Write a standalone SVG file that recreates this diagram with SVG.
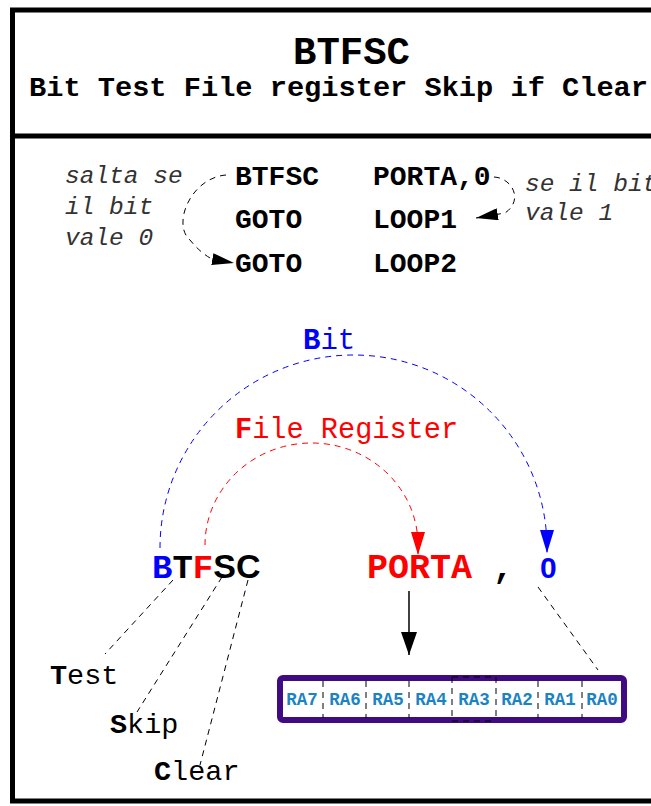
<svg xmlns="http://www.w3.org/2000/svg" width="651" height="806" viewBox="0 0 651 806">
<defs>
<style>
.mono{font-family:"Liberation Mono","Courier New",monospace}
.b{font-weight:bold}
.it{font-style:italic;fill:#333}
.dash{fill:none;stroke:#000;stroke-width:1;stroke-dasharray:6,5}
.cell{font-family:"Liberation Mono","Courier New",monospace;font-weight:bold;font-size:17.5px;fill:#1b83c4;text-anchor:middle}
.div{stroke:#000;stroke-width:1;stroke-dasharray:6,5}
</style>
<marker id="ah" markerUnits="userSpaceOnUse" markerWidth="22" markerHeight="12" refX="22" refY="6" orient="auto"><path d="M0,0 L22,6 L0,12 z" fill="#000"/></marker>
<marker id="ahBlack" markerUnits="userSpaceOnUse" markerWidth="23" markerHeight="16" refX="23" refY="8" orient="auto"><path d="M0,0 L23,8 L0,16 z" fill="#000"/></marker>
<marker id="ahBlue" markerUnits="userSpaceOnUse" markerWidth="23" markerHeight="14" refX="23" refY="7" orient="auto"><path d="M0,0 L23,7 L0,14 z" fill="#0000ff"/></marker>
<marker id="ahRed" markerUnits="userSpaceOnUse" markerWidth="23" markerHeight="14" refX="23" refY="7" orient="auto"><path d="M0,0 L23,7 L0,14 z" fill="#ff0000"/></marker>
</defs>
<rect width="651" height="806" fill="#fff"/>
<g id="frame" fill="none" stroke="#000" stroke-width="5">
<rect x="12.5" y="10" width="660" height="791"/>
<line x1="12.5" y1="136" x2="660" y2="136"/>
</g>
<g id="title" class="mono b">
<text x="293" y="64" font-size="39" textLength="117" lengthAdjust="spacingAndGlyphs">BTFSC</text>
<text x="29" y="96" font-size="28" textLength="619" lengthAdjust="spacingAndGlyphs">Bit Test File register Skip if Clear</text>
</g>
<g id="code" class="mono">
<text class="it" x="65" y="183" font-size="24.5">salta se</text>
<text class="it" x="65" y="214" font-size="24.5">il bit</text>
<text class="it" x="65" y="245" font-size="24.5">vale 0</text>
<text class="b" x="235" y="185" font-size="28">BTFSC</text>
<text class="b" x="235" y="228" font-size="28">GOTO</text>
<text class="b" x="235" y="272" font-size="28">GOTO</text>
<text class="b" x="373" y="185" font-size="28">PORTA,0</text>
<text class="b" x="373" y="228" font-size="28">LOOP1</text>
<text class="b" x="373" y="272" font-size="28">LOOP2</text>
<text class="it" x="525" y="191" font-size="24.5">se il bit</text>
<text class="it" x="525" y="220" font-size="24.5">vale 1</text>
</g>
<g id="labels" class="mono">
<text x="303" y="349" font-size="29" fill="#0000ff"><tspan class="b">B</tspan>it</text>
<text x="235" y="438" font-size="28.6" fill="#ff0000"><tspan class="b">F</tspan>ile Register</text>
<text class="b" x="152" y="578" font-size="34"><tspan fill="#0000ff">B</tspan><tspan fill="#000">T</tspan><tspan fill="#ff0000">F</tspan><tspan fill="#000" font-family="Liberation Sans, Arial, sans-serif">SC</tspan></text>
<text class="b" x="367" y="578" font-size="35" fill="#ff0000">PORTA</text>
<text class="b" x="493" y="578" font-size="34" fill="#000">,</text>
<text x="540" y="578" font-size="30" font-weight="bold" fill="#0000ff" font-family="Liberation Sans, Arial, sans-serif">0</text>
<text x="50" y="684" font-size="28.5"><tspan class="b">T</tspan>est</text>
<text x="110" y="733" font-size="28.5"><tspan class="b">S</tspan>kip</text>
<text x="154" y="780" font-size="28.5"><tspan class="b">C</tspan>lear</text>
</g>
<g id="register">
<rect x="280" y="678" width="344" height="42" rx="3" fill="#fff" stroke="#3f0a82" stroke-width="6"/>
<line class="div" x1="323" y1="681" x2="323" y2="718"/>
<line class="div" x1="366" y1="681" x2="366" y2="718"/>
<line class="div" x1="409" y1="681" x2="409" y2="718"/>
<line class="div" x1="452" y1="677" x2="452" y2="721"/>
<line class="div" x1="496" y1="677" x2="496" y2="721"/>
<line class="div" x1="538" y1="681" x2="538" y2="718"/>
<line class="div" x1="582" y1="681" x2="582" y2="718"/>
<line class="div" x1="452" y1="677" x2="496" y2="677"/>
<line class="div" x1="452" y1="721" x2="496" y2="721"/>
<text class="cell" x="302" y="705">RA7</text>
<text class="cell" x="345" y="705">RA6</text>
<text class="cell" x="388" y="705">RA5</text>
<text class="cell" x="431" y="705">RA4</text>
<text class="cell" x="474" y="705">RA3</text>
<text class="cell" x="517" y="705">RA2</text>
<text class="cell" x="560" y="705">RA1</text>
<text class="cell" x="602" y="705">RA0</text>
</g>
<g id="connectors">
<path class="dash" d="M226,175 C190,178 172,225 190,240 C198,250 206,256 212,259 L234,263" marker-end="url(#ah)"/>
<path class="dash" d="M494,177 C512,178 524,200 505,213 L476,218" marker-end="url(#ah)"/>
<path d="M160,548 A193.5,193 0 0 1 547,548 L547,553" fill="none" stroke="#0000ff" stroke-width="1" stroke-dasharray="6,5" marker-end="url(#ahBlue)"/>
<path d="M205,545 A106.5,102 0 0 1 418,545 L418,555" fill="none" stroke="#ff0000" stroke-width="1" stroke-dasharray="6,5" marker-end="url(#ahRed)"/>
<line x1="409" y1="591" x2="409" y2="655" stroke="#000" stroke-width="1.5" marker-end="url(#ahBlack)"/>
<line class="dash" x1="173" y1="580" x2="105" y2="654"/>
<line class="dash" x1="222" y1="577" x2="137" y2="712"/>
<line class="dash" x1="248" y1="580" x2="200" y2="765"/>
<line class="dash" x1="538" y1="587" x2="598" y2="670"/>
</g>
</svg>
